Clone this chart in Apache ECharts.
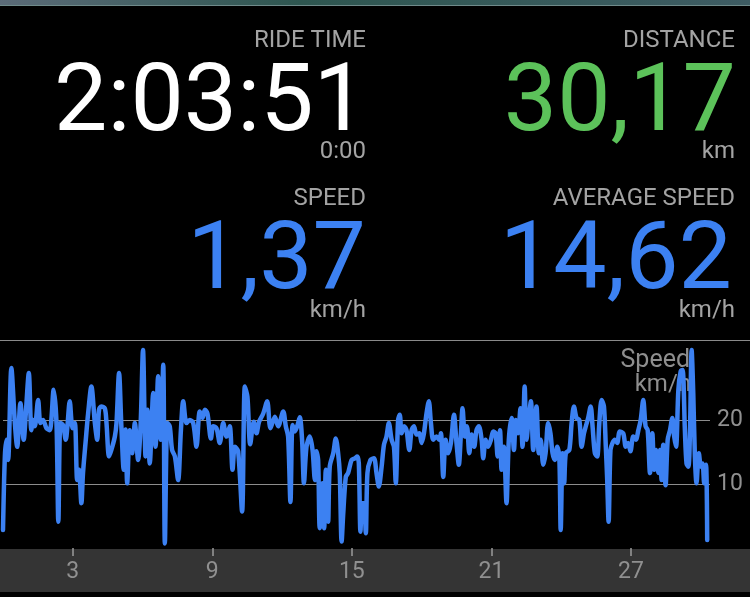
<!DOCTYPE html>
<html>
<head>
<meta charset="utf-8">
<script src="https://cdn.jsdelivr.net/npm/echarts@6/dist/echarts.min.js"></script>
<style>
    html, body { margin: 0; padding: 0; background: #000; }
    #EC { width: 750px; height: 597px; }
</style>
</head>
<body>
<div id="EC"></div>
<script>
// distance along the ride (km) and speed (km/h)
let distance = [
    0.00, 0.08, 0.15, 0.22, 0.36, 0.51, 0.61, 0.75, 0.89, 0.98,
    1.11, 1.22, 1.29, 1.37, 1.51, 1.61, 1.72, 1.87, 2.01, 2.18,
    2.30, 2.38, 2.47, 2.58, 2.70, 2.77, 2.87, 2.99, 3.09, 3.19,
    3.27, 3.37, 3.44, 3.56, 3.66, 3.80, 3.95, 4.05, 4.13, 4.23,
    4.38, 4.45, 4.56, 4.66, 4.81, 4.88, 4.99, 5.09, 5.19, 5.27,
    5.34, 5.45, 5.55, 5.67, 5.81, 5.92, 6.02, 6.13, 6.21, 6.31,
    6.46, 6.56, 6.67, 6.78, 6.89, 6.96, 7.07, 7.17, 7.27, 7.39,
    7.53, 7.65, 7.75, 7.89, 8.03, 8.18, 8.32, 8.46, 8.58, 8.68,
    8.79, 8.94, 9.04, 9.18, 9.32, 9.47, 9.61, 9.75, 9.87, 9.97,
    10.11, 10.28, 10.40, 10.51, 10.63, 10.78, 10.90, 11.01, 11.19, 11.36,
    11.50, 11.69, 11.83, 12.05, 12.16, 12.26, 12.36, 12.45, 12.55, 12.65,
    12.76, 12.86, 12.94, 13.05, 13.19, 13.31, 13.41, 13.48, 13.55, 13.62,
    13.74, 13.81, 13.88, 13.98, 14.05, 14.20, 14.31, 14.41, 14.48, 14.56,
    14.63, 14.74, 14.84, 14.99, 15.13, 15.23, 15.30, 15.37, 15.44, 15.52,
    15.60, 15.67, 15.80, 15.95, 16.06, 16.16, 16.28, 16.38, 16.49, 16.59,
    16.71, 16.81, 16.89, 16.99, 17.06, 17.14, 17.25, 17.35, 17.47, 17.57,
    17.67, 17.78, 17.90, 18.00, 18.10, 18.21, 18.31, 18.40, 18.50, 18.64,
    18.76, 18.83, 18.93, 19.03, 19.14, 19.26, 19.39, 19.50, 19.60, 19.69,
    19.76, 19.86, 19.95, 20.05, 20.15, 20.26, 20.36, 20.46, 20.58, 20.65,
    20.75, 20.86, 20.98, 21.08, 21.18, 21.27, 21.37, 21.44, 21.54, 21.65,
    21.75, 21.87, 21.97, 22.05, 22.15, 22.25, 22.34, 22.43, 22.51, 22.60,
    22.70, 22.80, 22.87, 22.94, 23.04, 23.12, 23.23, 23.33, 23.44, 23.54,
    23.63, 23.73, 23.83, 23.92, 23.98, 24.06, 24.13, 24.20, 24.35, 24.45,
    24.55, 24.66, 24.78, 24.88, 24.98, 25.06, 25.16, 25.27, 25.35, 25.45,
    25.55, 25.64, 25.74, 25.84, 25.92, 25.98, 26.04, 26.12, 26.21, 26.31,
    26.41, 26.52, 26.67, 26.78, 26.88, 26.98, 27.10, 27.21, 27.32, 27.42,
    27.53, 27.63, 27.72, 27.82, 27.92, 28.00, 28.08, 28.18, 28.25, 28.32,
    28.39, 28.49, 28.58, 28.68, 28.78, 28.86, 28.94, 29.04, 29.14, 29.22,
    29.32, 29.39, 29.47, 29.54, 29.61, 29.68, 29.75, 29.82, 29.92, 30.01,
    30.08, 30.15, 30.23, 30.28
]
let speed = [
    2.8, 14.3, 16.9, 13.75, 28.1, 19.5, 15.8, 22.6, 16.9, 21.0,
    27.3, 18.4, 20.0, 19.0, 23.1, 19.5, 20.0, 18.7, 18.4, 24.7,
    19.5, 4.1, 19.5, 19.2, 16.9, 19.0, 22.9, 18.7, 19.5, 10.6,
    12.2, 7.0, 11.7, 16.9, 21.0, 25.2, 19.5, 16.9, 21.6, 22.1,
    21.8, 19.5, 14.3, 15.3, 17.4, 19.5, 27.3, 19.0, 12.2, 18.5,
    10.1, 18.4, 14.8, 19.5, 13.75, 19.5, 30.9, 14.3, 21.6, 13.2,
    24.2, 15.8, 26.8, 16.9, 28.6, 0.7, 19.5, 19.0, 15.3, 14.3,
    10.6, 18.4, 22.9, 19.5, 20.0, 19.5, 15.8, 21.3, 20.3, 21.6,
    21.0, 17.1, 19.0, 18.7, 16.4, 19.5, 17.4, 19.0, 12.2, 15.8,
    15.1, 5.7, 25.2, 23.6, 16.2, 19.7, 17.9, 19.7, 21.0, 22.9,
    18.7, 20.5, 19.0, 21.3, 19.0, 17.4, 7.2, 19.2, 18.2, 19.0,
    20.4, 16.9, 10.1, 15.8, 17.4, 15.3, 10.6, 15.1, 13.75, 3.1,
    10.1, 3.1, 12.2, 4.1, 12.7, 14.8, 17.1, 14.8, 11.7, 1.0,
    5.4, 11.1, 11.7, 13.75, 14.0, 14.3, 13.2, 2.55, 7.0, 7.0,
    2.3, 11.7, 13.75, 14.0, 11.7, 9.6, 12.7, 16.1, 17.4, 19.5,
    16.9, 15.8, 10.1, 20.0, 20.8, 17.9, 19.0, 18.4, 15.3, 18.4,
    19.0, 17.7, 17.9, 16.4, 17.9, 21.0, 22.9, 19.5, 16.9, 17.4,
    16.9, 17.9, 11.1, 16.9, 14.8, 16.4, 20.8, 16.4, 13.0, 17.9,
    21.8, 17.4, 19.0, 14.8, 17.7, 15.8, 18.4, 19.0, 16.9, 14.0,
    16.9, 15.8, 16.9, 18.2, 17.9, 14.3, 18.4, 12.2, 15.8, 7.0,
    16.9, 20.3, 15.3, 20.0, 17.9, 21.8, 15.8, 25.2, 16.9, 20.0,
    22.9, 15.3, 18.4, 22.1, 14.8, 16.9, 13.0, 14.8, 19.5, 17.9,
    14.8, 13.75, 15.8, 14.3, 2.8, 14.8, 10.1, 14.8, 15.3, 19.5,
    22.1, 20.3, 20.0, 15.8, 17.9, 19.0, 20.3, 22.1, 19.0, 14.8,
    14.3, 19.5, 23.1, 22.1, 15.8, 10.6, 4.1, 15.3, 16.4, 16.9,
    16.4, 18.2, 17.9, 15.8, 16.4, 15.1, 17.4, 16.9, 18.4, 20.0,
    23.1, 19.0, 18.4, 11.7, 17.9, 12.2, 15.3, 11.7, 15.3, 10.6,
    16.1, 9.8, 16.9, 18.4, 20.3, 17.4, 15.8, 24.7, 27.6, 27.8,
    18.4, 13.2, 12.7, 18.4, 30.9, 24.2, 14.3, 10.1, 14.8, 12.7,
    13.2, 10.1, 13.0, 1.25
]
let xTicks = [3, 9, 15, 21, 27]
let yTicks = [10, 20]

let data = distance.map((d, i) => [d, speed[i]])

let grey = '#a3a3a3'
let blue = '#3c81f2'
let green = '#5cc25a'
let font = 'Roboto, "Noto Sans", sans-serif'

function txt(x, y, text, size, color) {
    return {
        type: 'text',
        z: 0,
        style: {
            x: x, y: y, text: text,
            fill: color,
            font: size + 'px ' + font,
            align: 'right',
            verticalAlign: 'middle'
        }
    }
}

let EC = echarts.init(document.getElementById('EC'))
let option = {
    backgroundColor: '#000',
    animation: false,
    graphic: [
        // bit of the map peeking in at the top
        {
            type: 'rect', z: 0,
            shape: { x: 0, y: 0, width: 750, height: 5 },
            style: {
                fill: new echarts.graphic.LinearGradient(0, 0, 1, 0, [
                    { offset: 0, color: '#5b6b78' },
                    { offset: 0.4, color: '#2e5650' },
                    { offset: 1, color: '#3e5c63' }
                ])
            }
        },
        { type: 'line', z: 0, shape: { x1: 0, y1: 5.5, x2: 750, y2: 5.5 }, style: { stroke: '#6f8a8a', lineWidth: 1 } },

        txt(366, 41, 'RIDE TIME', 24, grey),
        txt(367, 106, '2:03:51', 95, '#ffffff'),
        txt(366, 152, '0:00', 24, grey),
        txt(735, 41, 'DISTANCE', 24, grey),
        txt(736, 106, '30,17', 95, green),
        txt(735, 152, 'km', 24, grey),

        txt(366, 199, 'SPEED', 24, grey),
        txt(366, 264, '1,37', 95, blue),
        txt(366, 311, 'km/h', 24, grey),
        txt(735, 199, 'AVERAGE SPEED', 24, grey),
        txt(732, 264, '14,62', 95, blue),
        txt(735, 311, 'km/h', 24, grey),

        { type: 'line', z: 0, shape: { x1: 0, y1: 340.5, x2: 750, y2: 340.5 }, style: { stroke: '#8a8a8a', lineWidth: 1 } },

        txt(690, 361, 'Speed', 25, '#8e8e8e'),
        txt(691, 385, 'km/h', 24, '#8e8e8e'),

        // grey strip under the graph
        { type: 'rect', z: 0, shape: { x: 0, y: 549, width: 750, height: 43 }, style: { fill: '#343434' } }
    ],
    grid: {
        left: 3,
        right: 40,
        top: 343,
        bottom: 49
    },
    xAxis: {
        type: 'value',
        min: 0,
        max: 30.4,
        interval: 3,
        axisLine: { show: false },
        splitLine: { show: false },
        axisTick: {
            show: true,
            customValues: xTicks,
            length: 8,
            lineStyle: { color: '#9a9a9a', width: 1.5 }
        },
        axisLabel: {
            customValues: xTicks,
            margin: 13,
            color: '#909090',
            fontSize: 23,
            fontFamily: font
        }
    },
    yAxis: {
        type: 'value',
        position: 'right',
        min: 0,
        max: 32,
        interval: 10,
        axisLine: { show: false },
        axisTick: { show: false, customValues: yTicks },
        splitLine: { show: true, lineStyle: { color: '#8c8c8c', width: 1 } },
        axisLabel: {
            customValues: yTicks,
            margin: 7,
            color: '#909090',
            fontSize: 23,
            fontFamily: font
        }
    },
    series: [{
        type: 'line',
        data: data,
        showSymbol: false,
        smooth: 0.3,
        z: 3,
        lineStyle: { color: blue, width: 4.5, join: 'round', cap: 'round' }
    }]
}
EC.setOption(option)
</script>
</body>
</html>
